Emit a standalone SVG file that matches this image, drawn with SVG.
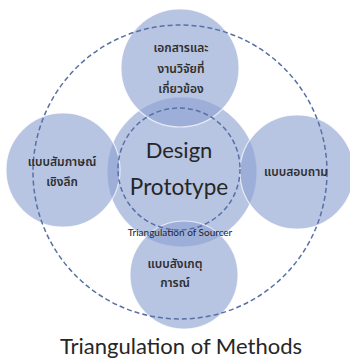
<svg xmlns="http://www.w3.org/2000/svg" width="350" height="360" viewBox="0 0 350 360">
  <style>
    .disc { fill: #8ea3d1; fill-opacity: 0.64; stroke: #ffffff; stroke-opacity: 0.7; stroke-width: 1.2; }
    .ring { fill: none; stroke: #5870a6; stroke-width: 1.5; stroke-dasharray: 5 3; }
    .th { font-family: "Noto Sans Thai", "Noto Sans", "DejaVu Sans", sans-serif; font-size: 12px; font-weight: 600; fill: #2e2e2e; text-anchor: middle; }
    .en { font-family: Lato, "Liberation Sans", sans-serif; fill: #262626; text-anchor: middle; }
  </style>
  <rect width="350" height="360" fill="#ffffff"/>

  <!-- filled discs -->
  <g id="node-center"><circle class="disc" cx="182" cy="172" r="75"/></g>
  <g id="node-top"><circle class="disc" cx="180" cy="68" r="59"/></g>
  <g id="node-left"><circle class="disc" cx="63" cy="170" r="57"/></g>
  <g id="node-right"><circle class="disc" cx="297" cy="172" r="57"/></g>
  <g id="node-bottom"><circle class="disc" cx="184" cy="275" r="54"/></g>

  <!-- dashed rings -->
  <g id="connectors">
    <circle class="ring" cx="180" cy="172" r="147"/>
    <circle class="ring" cx="179" cy="169" r="61"/>
  </g>

  <!-- labels -->
  <g id="labels">
    <text class="th" x="181" y="52">เอกสารและ</text>
    <text class="th" x="181" y="73">งานวิจัยที่</text>
    <text class="th" x="181" y="93">เกี่ยวข้อง</text>

    <text class="th" x="62" y="166">แบบสัมภาษณ์</text>
    <text class="th" x="62" y="186">เชิงลึก</text>

    <text class="th" x="296" y="176">แบบสอบถาม</text>

    <text class="th" x="175" y="268">แบบสังเกตุ</text>
    <text class="th" x="175" y="287">การณ์</text>

    <text class="en" x="179" y="158" font-size="22">Design</text>
    <text class="en" x="179" y="195" font-size="22.5">Prototype</text>
    <text class="en" x="180" y="236" font-size="10">Triangulation of Sourcer</text>
    <text class="en" x="181" y="354" font-size="22">Triangulation of Methods</text>
  </g>
</svg>
